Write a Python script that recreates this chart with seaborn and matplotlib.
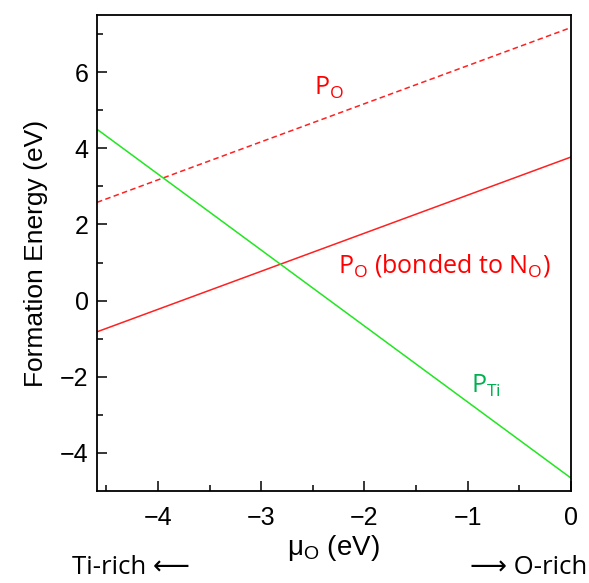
import numpy as np
import pandas as pd
import matplotlib.pyplot as plt
import seaborn as sns

# dane
mu_o = [-4.59, 0.0]
e_po = [2.58, 7.17]
e_po_bonded = [-0.82, 3.77]
e_pti = [4.50, -4.66]

sns.set_style("ticks")
plt.rcParams['font.family'] = ['Liberation Sans', 'DejaVu Sans']
plt.rcParams['mathtext.fontset'] = 'custom'
plt.rcParams['mathtext.rm'] = 'Open Sans'
plt.rcParams['mathtext.sf'] = 'Liberation Sans'
for k in ['text.color', 'axes.labelcolor', 'xtick.color', 'ytick.color']:
    plt.rcParams[k] = 'black'

df = pd.DataFrame({'mu': mu_o * 3,
                   'E': e_po + e_po_bonded + e_pti,
                   'defekt': ['PO'] * 2 + ['PO_b'] * 2 + ['PTi'] * 2})

fig = plt.figure(figsize=(5.89, 5.83), dpi=100)
ax = fig.add_axes([0.1647, 0.1578, 0.8047, 0.8165])

sns.lineplot(data=df[df.defekt == 'PO'], x='mu', y='E', color='#ff2020', lw=1.1,
             dashes=False, ax=ax, linestyle=(0, (3.6, 2.2)))
sns.lineplot(data=df[df.defekt == 'PO_b'], x='mu', y='E', color='#ff2020', lw=1.1, ax=ax)
sns.lineplot(data=df[df.defekt == 'PTi'], x='mu', y='E', color='#22e622', lw=1.1, ax=ax)

ax.set_xlim(-4.59, 0)
ax.set_ylim(-5, 7.5)
ax.set_xticks([-4, -3, -2, -1, 0])
ax.set_xticks(np.arange(-4.5, 0, 1.0), minor=True)
ax.set_yticks([-4, -2, 0, 2, 4, 6])
ax.set_yticks([-3, -1, 1, 3, 5, 7], minor=True)
ax.tick_params(which='both', direction='in', top=False, right=False, labelsize=18, width=1.1, color='black')
ax.tick_params(which='major', length=7)
ax.tick_params(which='minor', length=4)
ax.tick_params(axis='x', pad=11)
ax.tick_params(axis='y', pad=6)
for s in ax.spines.values():
    s.set_linewidth(1.3)
    s.set_color('black')

ax.set_xlabel('')
ax.set_ylabel('Formation Energy (eV)', fontsize=19, labelpad=9)

# podpisy linii
ax.text(-2.34, 5.58, r'P$_\mathrm{O}$', color='#ff0000', fontsize=18, family='Open Sans',
        ha='center', va='center')
ax.text(-1.23, 0.92, r'P$_\mathrm{O}$ (bonded to N$_\mathrm{O}$)', color='#ff0000', fontsize=18,
        family='Open Sans', ha='center', va='center')
ax.text(-0.82, -2.24, r'P$_\mathrm{Ti}$', color='#00b050', fontsize=18, family='Open Sans',
        ha='center', va='center')

fig.text(333 / 589, 1 - 548 / 583, r'μ$_\mathsf{O}$ (eV)', fontsize=20, ha='center', va='center')
fig.text(190 / 589, 1 - 568 / 583, 'Ti-rich ⟵', fontsize=18.5, ha='right', va='center',
         family=['Open Sans', 'DejaVu Sans'])
fig.text(470 / 589, 1 - 568 / 583, '⟶ O-rich', fontsize=18.5, ha='left', va='center',
         family=['Open Sans', 'DejaVu Sans'])

fig.savefig('out.png', dpi=100)
